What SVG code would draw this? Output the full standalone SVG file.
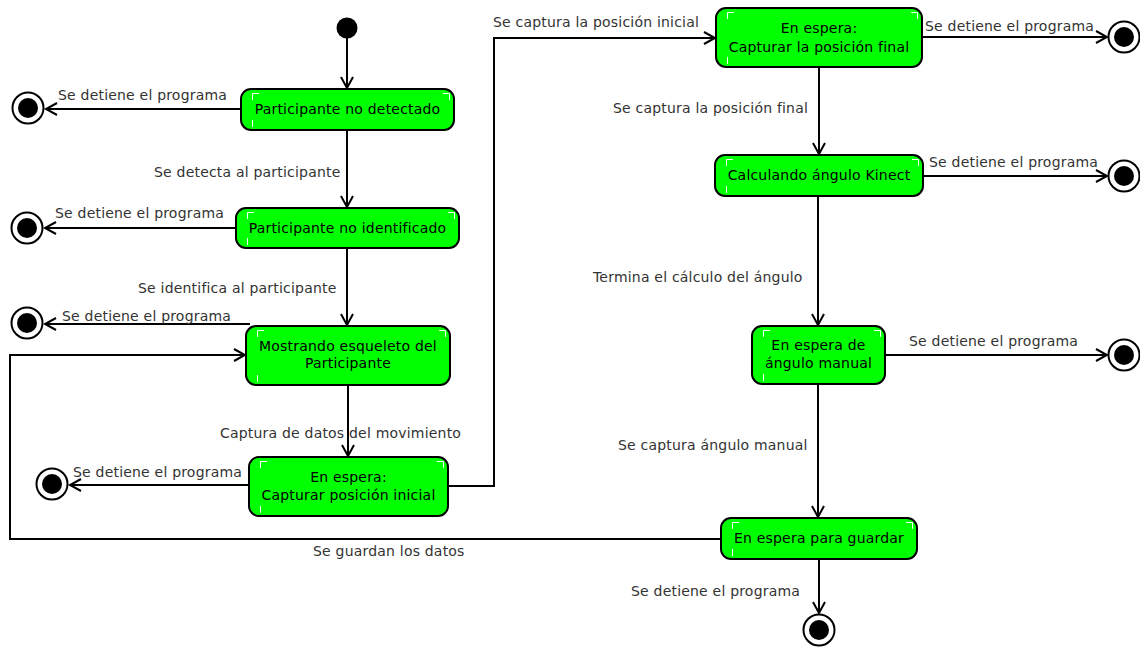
<svg xmlns="http://www.w3.org/2000/svg" width="1140" height="647" viewBox="0 0 1140 647">
  <style>
    .state rect { fill: #00ff00; stroke: #000; stroke-width: 2; }
    .state .mark { fill: none; stroke: #fff; stroke-width: 1; }
    .state text { font-family: "DejaVu Sans", "Liberation Sans", sans-serif; font-size: 14px; fill: #000; text-anchor: middle; letter-spacing: 0.2px; }
    .edge { fill: none; stroke: #000; stroke-width: 2; }
    .lbl { font-family: "DejaVu Sans", "Liberation Sans", sans-serif; font-size: 14px; fill: #333; letter-spacing: 0.2px; }
    .final .ring { fill: #fff; stroke: #000; stroke-width: 2; }
    .final .dot, .initial circle { fill: #000; }
  </style>
  <defs>
    <marker id="open" markerUnits="userSpaceOnUse" markerWidth="14" markerHeight="14" refX="12" refY="7" orient="auto">
      <path d="M1,1 L12,7 L1,13" fill="none" stroke="#000" stroke-width="2"/>
    </marker>
  </defs>
  <rect width="1140" height="647" fill="#fff"/>

  <!-- transitions -->
  <g id="connectors">
    <path class="edge" d="M347,38 V88" marker-end="url(#open)"/>
    <path class="edge" d="M241,109 H46" marker-end="url(#open)"/>
    <path class="edge" d="M347,130 V207" marker-end="url(#open)"/>
    <path class="edge" d="M236,228 H45" marker-end="url(#open)"/>
    <path class="edge" d="M347,248 V325" marker-end="url(#open)"/>
    <path class="edge" d="M250,324 H45" marker-end="url(#open)"/>
    <path class="edge" d="M348,385 V456" marker-end="url(#open)"/>
    <path class="edge" d="M249,485 H70" marker-end="url(#open)"/>
    <path class="edge" d="M448,486 H494 V38 H715" marker-end="url(#open)"/>
    <path class="edge" d="M922,37 H1107" marker-end="url(#open)"/>
    <path class="edge" d="M819,67 V154" marker-end="url(#open)"/>
    <path class="edge" d="M923,176 H1107" marker-end="url(#open)"/>
    <path class="edge" d="M818,196 V325" marker-end="url(#open)"/>
    <path class="edge" d="M885,355 H1107" marker-end="url(#open)"/>
    <path class="edge" d="M818,384 V517" marker-end="url(#open)"/>
    <path class="edge" d="M721,539 H10 V355 H245" marker-end="url(#open)"/>
    <path class="edge" d="M819,559 V613" marker-end="url(#open)"/>

    <text class="lbl" x="58" y="99.5">Se detiene el programa</text>
    <text class="lbl" x="154" y="177">Se detecta al participante</text>
    <text class="lbl" x="55" y="218">Se detiene el programa</text>
    <text class="lbl" x="138" y="293">Se identifica al participante</text>
    <text class="lbl" x="62" y="321">Se detiene el programa</text>
    <text class="lbl" x="220" y="438">Captura de datos del movimiento</text>
    <text class="lbl" x="73" y="477">Se detiene el programa</text>
    <text class="lbl" x="313" y="556">Se guardan los datos</text>
    <text class="lbl" x="493" y="27">Se captura la posición inicial</text>
    <text class="lbl" x="925" y="31">Se detiene el programa</text>
    <text class="lbl" x="613" y="113">Se captura la posición final</text>
    <text class="lbl" x="929" y="167">Se detiene el programa</text>
    <text class="lbl" x="593" y="282">Termina el cálculo del ángulo</text>
    <text class="lbl" x="909" y="346">Se detiene el programa</text>
    <text class="lbl" x="618" y="450">Se captura ángulo manual</text>
    <text class="lbl" x="631" y="596">Se detiene el programa</text>
  </g>

  <!-- pseudo-states -->
  <g id="start" class="initial"><circle cx="347" cy="28" r="10.5"/></g>
  <g id="end1" class="final"><circle class="ring" cx="28" cy="108" r="15.5"/><circle class="dot" cx="28" cy="108" r="10"/></g>
  <g id="end2" class="final"><circle class="ring" cx="27" cy="228" r="15.5"/><circle class="dot" cx="27" cy="228" r="10"/></g>
  <g id="end3" class="final"><circle class="ring" cx="27" cy="323" r="15.5"/><circle class="dot" cx="27" cy="323" r="10"/></g>
  <g id="end4" class="final"><circle class="ring" cx="52" cy="484" r="15.5"/><circle class="dot" cx="52" cy="484" r="10"/></g>
  <g id="end5" class="final"><circle class="ring" cx="1124" cy="37" r="15.5"/><circle class="dot" cx="1124" cy="37" r="10"/></g>
  <g id="end6" class="final"><circle class="ring" cx="1124" cy="176" r="15.5"/><circle class="dot" cx="1124" cy="176" r="10"/></g>
  <g id="end7" class="final"><circle class="ring" cx="1124" cy="355" r="15.5"/><circle class="dot" cx="1124" cy="355" r="10"/></g>
  <g id="end8" class="final"><circle class="ring" cx="819" cy="630" r="15.5"/><circle class="dot" cx="819" cy="630" r="10"/></g>

  <!-- states -->
  <g id="participante-no-detectado" class="state">
    <rect x="241" y="89" width="213" height="41" rx="10"/>
    <path class="mark" d="M252.5,100 V93.5 H259 M443,93.5 H449.5 V100 M252.5,120 V127"/>
    <text x="347.5" y="114">Participante no detectado</text>
  </g>
  <g id="participante-no-identificado" class="state">
    <rect x="236" y="208" width="223" height="40" rx="10"/>
    <path class="mark" d="M247.5,219 V212.5 H254 M448,212.5 H454.5 V219 M247.5,238 V245"/>
    <text x="347.5" y="233">Participante no identificado</text>
  </g>
  <g id="mostrando-esqueleto" class="state">
    <rect x="246" y="326" width="204" height="59" rx="10"/>
    <path class="mark" d="M257.5,337 V330.5 H264 M439,330.5 H445.5 V337 M257.5,375 V382"/>
    <text x="348" y="351">Mostrando esqueleto del</text>
    <text x="348" y="368">Participante</text>
  </g>
  <g id="espera-posicion-inicial" class="state">
    <rect x="249" y="457" width="199" height="59" rx="10"/>
    <path class="mark" d="M260.5,468 V461.5 H267 M437,461.5 H443.5 V468 M260.5,506 V513"/>
    <text x="348.5" y="482">En espera:</text>
    <text x="348.5" y="500">Capturar posición inicial</text>
  </g>
  <g id="espera-posicion-final" class="state">
    <rect x="716" y="8" width="206" height="59" rx="10"/>
    <path class="mark" d="M727.5,19 V12.5 H734 M911,12.5 H917.5 V19 M727.5,57 V64"/>
    <text x="819" y="33">En espera:</text>
    <text x="819" y="52">Capturar la posición final</text>
  </g>
  <g id="calculando-angulo" class="state">
    <rect x="715" y="155" width="208" height="41" rx="10"/>
    <path class="mark" d="M726.5,166 V159.5 H733 M912,159.5 H918.5 V166 M726.5,186 V193"/>
    <text x="819" y="180">Calculando ángulo Kinect</text>
  </g>
  <g id="espera-angulo-manual" class="state">
    <rect x="752" y="326" width="133" height="58" rx="10"/>
    <path class="mark" d="M763.5,337 V330.5 H770 M874,330.5 H880.5 V337 M763.5,374 V381"/>
    <text x="818.5" y="350">En espera de</text>
    <text x="818.5" y="368">ángulo manual</text>
  </g>
  <g id="espera-guardar" class="state">
    <rect x="721" y="518" width="196" height="41" rx="10"/>
    <path class="mark" d="M732.5,529 V522.5 H739 M906,522.5 H912.5 V529 M732.5,549 V556"/>
    <text x="819" y="543">En espera para guardar</text>
  </g>
</svg>
